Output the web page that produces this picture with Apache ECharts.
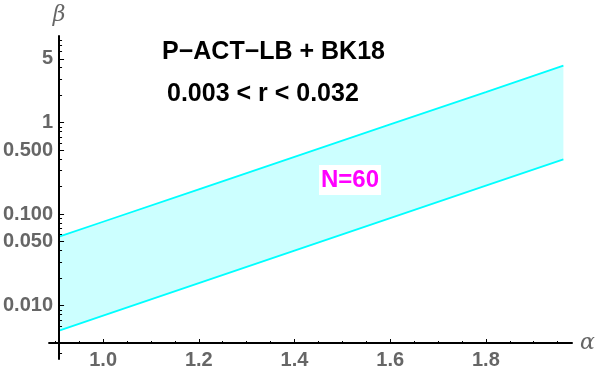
<!DOCTYPE html>
<html>
<head>
<meta charset="utf-8">
<script src="https://cdn.jsdelivr.net/npm/echarts@6/dist/echarts.min.js"></script>
<style>
  html, body { margin: 0; padding: 0; background: #fff; }
  #main { width: 600px; height: 375px; }
</style>
</head>
<body>
<div id="main"></div>
<script>
var alpha = [0.908, 1.0, 1.2, 1.4, 1.6, 1.8, 1.962]
var betaUpper = [0.0568, 0.0826, 0.187, 0.423, 0.957, 2.16, 4.2]
var betaLower = [0.00533, 0.00776, 0.0176, 0.0399, 0.0906, 0.205, 0.398]

var xMajor = [1.0, 1.2, 1.4, 1.6, 1.8]
var xMinor = [0.9, 0.95, 1.05, 1.1, 1.15, 1.25, 1.3, 1.35, 1.45, 1.5, 1.55, 1.65, 1.7, 1.75, 1.85, 1.9, 1.95]
var yMajor = [0.01, 0.05, 0.1, 0.5, 1, 5]
var yMinor = [0.003, 0.004, 0.006, 0.007, 0.008, 0.009,
  0.02, 0.03, 0.04, 0.06, 0.07, 0.08, 0.09,
  0.2, 0.3, 0.4, 0.6, 0.7, 0.8, 0.9,
  2, 3, 4, 6, 7, 8]
var yLabels = { 0.01: '0.010', 0.05: '0.050', 0.1: '0.100', 0.5: '0.500', 1: '1', 5: '5' }

var xMin = 0.887, xMax = 1.98
var yMin = 0.00261, yMax = 8.87

var labelStyle = { color: '#666', fontSize: 20, fontWeight: 'bold', fontFamily: 'Liberation Sans' }

var myChart = echarts.init(document.getElementById('main'))

function pairs(ys) {
  return alpha.map(function (a, i) { return [a, ys[i]] })
}

myChart.setOption({
  animation: false,
  title: [
    { text: 'P\u2212ACT\u2212LB + BK18', left: 162, top: 40, padding: 0,
      textStyle: { color: '#000', fontSize: 25, fontWeight: 'bold', fontFamily: 'Liberation Sans' } },
    { text: '0.003 < r < 0.032', left: 167, top: 82, padding: 0,
      textStyle: { color: '#000', fontSize: 25, fontWeight: 'bold', fontFamily: 'Liberation Sans' } },
    { text: 'N=60', left: 319, top: 165, padding: [3, 2], backgroundColor: '#fff',
      textStyle: { color: '#ff00ff', fontSize: 24, fontWeight: 'bold', fontFamily: 'Liberation Sans' } }
  ],
  grid: { left: 49, right: 28, top: 36, bottom: 16 },
  xAxis: [{
    type: 'value', position: 'bottom', min: xMin, max: xMax, offset: -16, z: 5,
    name: 'α', nameLocation: 'end', nameGap: 8,
    nameTextStyle: { color: '#666', fontSize: 22, fontStyle: 'italic', fontFamily: 'DejaVu Serif', verticalAlign: 'middle' },
    axisLine: { lineStyle: { color: '#000', width: 2 } },
    axisTick: { inside: true, length: 4, customValues: xMajor, lineStyle: { color: '#000', width: 1 } },
    axisLabel: Object.assign({ margin: 7, customValues: xMajor, formatter: function (v) { return v.toFixed(1) } }, labelStyle),
    splitLine: { show: false }
  }, {
    type: 'value', position: 'bottom', min: xMin, max: xMax, offset: -16, z: 5,
    axisLine: { show: false },
    axisTick: { inside: true, length: 2, customValues: xMinor, lineStyle: { color: '#000', width: 1 } },
    axisLabel: { show: false },
    splitLine: { show: false }
  }],
  yAxis: [{
    type: 'log', position: 'left', logBase: 10, min: yMin, max: yMax, offset: -10, z: 5,
    name: 'β', nameLocation: 'end', nameGap: 10,
    nameTextStyle: { color: '#666', fontSize: 22, fontStyle: 'italic', fontFamily: 'DejaVu Serif' },
    axisLine: { lineStyle: { color: '#000', width: 2 } },
    axisTick: { inside: true, length: 5, customValues: yMajor, lineStyle: { color: '#000', width: 1 } },
    axisLabel: Object.assign({ margin: 6, customValues: yMajor, formatter: function (v) { return yLabels[v] || String(v) } }, labelStyle),
    splitLine: { show: false }
  }, {
    type: 'log', position: 'left', logBase: 10, min: yMin, max: yMax, offset: -10, z: 5,
    axisLine: { show: false },
    axisTick: { inside: true, length: 3, customValues: yMinor, lineStyle: { color: '#000', width: 1 } },
    axisLabel: { show: false },
    splitLine: { show: false }
  }],
  series: [
    {
      type: 'custom',
      xAxisIndex: 0, yAxisIndex: 0,
      data: [[alpha[0], betaUpper[0]]],
      z: 1,
      renderItem: function (params, api) {
        var pts = []
        for (var i = 0; i < alpha.length; i++) pts.push(api.coord([alpha[i], betaUpper[i]]))
        for (var j = alpha.length - 1; j >= 0; j--) pts.push(api.coord([alpha[j], betaLower[j]]))
        return { type: 'polygon', shape: { points: pts }, style: { fill: '#ccffff' } }
      }
    },
    {
      type: 'line', xAxisIndex: 0, yAxisIndex: 0, data: pairs(betaUpper),
      showSymbol: false, lineStyle: { color: '#00ffff', width: 1.8 }, z: 2
    },
    {
      type: 'line', xAxisIndex: 0, yAxisIndex: 0, data: pairs(betaLower),
      showSymbol: false, lineStyle: { color: '#00ffff', width: 1.8 }, z: 2
    }
  ]
})
</script>
</body>
</html>
